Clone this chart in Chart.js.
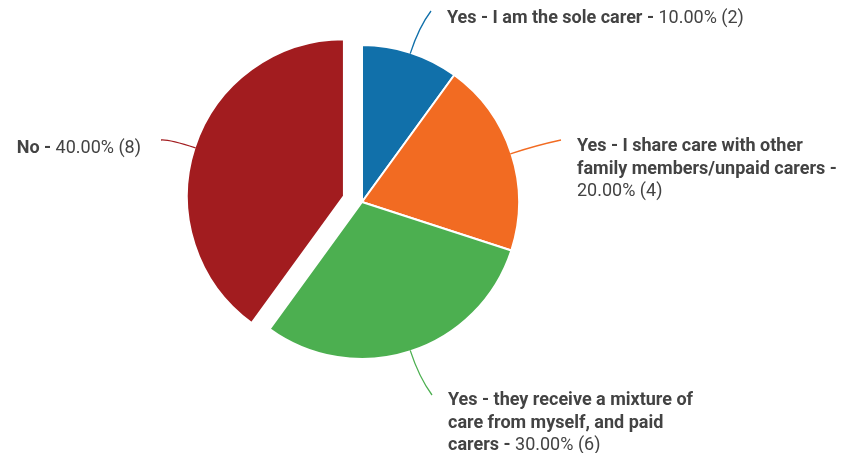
<!DOCTYPE html>
<html>
<head>
<meta charset="utf-8">
<script src="https://cdn.jsdelivr.net/npm/chart.js@4/dist/chart.umd.min.js"></script>
<style>
    html, body { margin: 0; padding: 0; background: #fff; }
</style>
</head>
<body>
<canvas id="graficoCuidados" width="850" height="453"></canvas>
<script>
// answers and counts
const categories = [
    'Yes - I am the sole carer',
    'Yes - I share care with other family members/unpaid carers',
    'Yes - they receive a mixture of care from myself, and paid carers',
    'No'
];
const counts = [2, 4, 6, 8];
const colors = ['#1170aa', '#f26b22', '#4caf50', '#a21c1f'];

// how far each slice is pulled out of the pie (px)
const pullOut = [0, 0, 0, 19];

// where each label sits and where its leader line ends
const labelBoxes = [
    { x: 447, y: 23, endX: 431, endY: 11, align: 'left', wrap: 0 },
    { x: 577, y: 151, endX: 561, endY: 140, align: 'left', wrap: 262 },
    { x: 448, y: 405, endX: 432, endY: 395, align: 'left', wrap: 255 },
    { x: 141, y: 153, endX: 161, endY: 140, align: 'right', wrap: 0 }
];

const total = counts.reduce((a, b) => a + b, 0);
const FONT_FAMILY = 'Roboto, "Liberation Sans", sans-serif';
const LINE_HEIGHT = 22.5;

const pullOutPlugin = {
    id: 'pullOut',
    afterDatasetUpdate(chart, args) {
        args.meta.data.forEach((arc, i) => {
            const d = pullOut[i];
            if (!d) return;
            const mid = (arc.startAngle + arc.endAngle) / 2;
            arc.x += Math.cos(mid) * d;
            arc.y += Math.sin(mid) * d;
        });
    }
};

function buildTokens(i) {
    const pct = (counts[i] / total * 100).toFixed(2) + '%';
    const tokens = categories[i].split(' ').map(w => ({ text: w, bold: true }));
    tokens.push({ text: '-', bold: true });
    tokens.push({ text: pct, bold: false });
    tokens.push({ text: '(' + counts[i] + ')', bold: false });
    return tokens;
}

function setFont(ctx, bold) {
    ctx.font = (bold ? 'bold ' : '') + '18px ' + FONT_FAMILY;
}

const labelPlugin = {
    id: 'calloutLabels',
    afterDatasetsDraw(chart) {
        const ctx = chart.ctx;
        const meta = chart.getDatasetMeta(0);
        ctx.save();
        meta.data.forEach((arc, i) => {
            const box = labelBoxes[i];
            const mid = (arc.startAngle + arc.endAngle) / 2;
            const r = arc.outerRadius - 1;
            const sx = arc.x + Math.cos(mid) * r;
            const sy = arc.y + Math.sin(mid) * r;
            const cx = sx + Math.cos(mid) * 28;
            const cy = sy + Math.sin(mid) * 28;

            // leader line
            ctx.beginPath();
            ctx.moveTo(sx, sy);
            ctx.quadraticCurveTo(cx, cy, box.endX, box.endY);
            ctx.strokeStyle = colors[i];
            ctx.lineWidth = 1.3;
            ctx.stroke();

            // wrap words into lines
            const tokens = buildTokens(i);
            setFont(ctx, false);
            const space = ctx.measureText(' ').width;
            tokens.forEach(t => { setFont(ctx, t.bold); t.w = ctx.measureText(t.text).width; });
            const lines = [];
            let cur = [], curW = 0;
            tokens.forEach(t => {
                const add = cur.length ? space + t.w : t.w;
                if (box.wrap && cur.length && curW + add > box.wrap) {
                    lines.push({ tokens: cur, w: curW });
                    cur = [t];
                    curW = t.w;
                } else {
                    cur.push(t);
                    curW += add;
                }
            });
            lines.push({ tokens: cur, w: curW });

            ctx.fillStyle = '#434343';
            ctx.textBaseline = 'alphabetic';
            ctx.textAlign = 'left';
            lines.forEach((line, li) => {
                let x = box.align === 'right' ? box.x - line.w : box.x;
                const y = box.y + li * LINE_HEIGHT;
                line.tokens.forEach((t, ti) => {
                    if (ti) x += space;
                    setFont(ctx, t.bold);
                    ctx.fillText(t.text, x, y);
                    x += t.w;
                });
            });
        });
        ctx.restore();
    }
};

const ctx = document.getElementById('graficoCuidados').getContext('2d');
const grafico = new Chart(ctx, {
    type: 'pie',
    data: {
        labels: categories,
        datasets: [{
            data: counts,
            backgroundColor: colors,
            borderColor: '#ffffff',
            borderWidth: 2
        }]
    },
    options: {
        responsive: false,
        animation: false,
        radius: 157,
        layout: {
            padding: { left: 0, right: 126, top: 0, bottom: 49 }
        },
        plugins: {
            legend: { display: false },
            tooltip: { enabled: false }
        }
    },
    plugins: [pullOutPlugin, labelPlugin]
});
</script>
</body>
</html>
